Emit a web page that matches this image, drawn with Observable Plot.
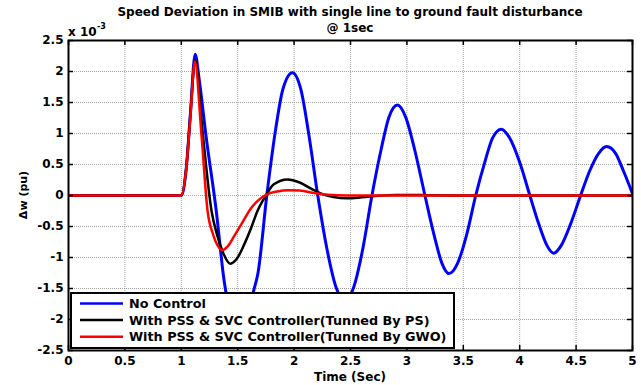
<!DOCTYPE html>
<html><head><meta charset="utf-8">
<script src="https://cdn.jsdelivr.net/npm/d3@7"></script>
<script src="https://cdn.jsdelivr.net/npm/@observablehq/plot@0.6"></script>
<style>body{margin:0;background:#fff} #chart{width:641px;height:385px}</style>
</head><body><div id="chart"></div>
<script>
const title1 = "Speed Deviation in SMIB with single line to ground fault disturbance";
const title2 = "@ 1sec";
const xLabel = "Time (Sec)";
const yLabel = "Δw (pu)";
const yExpBase = "x 10";
const yExpPow = "-3";
const seriesNames = ["No Control", "With PSS & SVC Controller(Tunned By PS)", "With PSS & SVC Controller(Tunned By GWO)"];
const seriesColors = ["#0000ff", "#000000", "#ff0000"];
const xTicks = [0, 0.5, 1, 1.5, 2, 2.5, 3, 3.5, 4, 4.5, 5];
const xTickLabels = ["0", "0.5", "1", "1.5", "2", "2.5", "3", "3.5", "4", "4.5", "5"];
const yTicks = [-2.5, -2, -1.5, -1, -0.5, 0, 0.5, 1, 1.5, 2, 2.5];
const yTickLabels = ["-2.5", "-2", "-1.5", "-1", "-0.5", "0", "0.5", "1", "1.5", "2", "2.5"];

// No Control (x 10^-3)
const blueT = [0, 1.0, 1.044, 1.08, 1.123, 1.16, 1.22, 1.31, 1.38, 1.44, 1.52, 1.59, 1.64, 1.68, 1.758, 1.83, 1.90, 1.985, 2.06, 2.13, 2.21, 2.29, 2.37, 2.45, 2.53, 2.61, 2.69, 2.77, 2.84, 2.916, 2.99, 3.07, 3.16, 3.24, 3.31, 3.373, 3.45, 3.53, 3.61, 3.69, 3.76, 3.837, 3.91, 4.00, 4.09, 4.17, 4.24, 4.30, 4.37, 4.45, 4.54, 4.62, 4.70, 4.77, 4.85, 4.92, 5.0];
const blueV = [0, 0, 0.44, 1.3, 2.28, 1.85, 0.95, -0.25, -1.38, -1.95, -2.25, -2.0, -1.55, -1.25, 0, 0.99, 1.71, 1.98, 1.71, 0.99, 0, -0.85, -1.47, -1.70, -1.47, -0.85, 0, 0.73, 1.26, 1.46, 1.26, 0.73, 0, -0.63, -1.09, -1.26, -1.09, -0.63, 0, 0.535, 0.93, 1.07, 0.93, 0.535, 0, -0.465, -0.80, -0.93, -0.80, -0.465, 0, 0.395, 0.68, 0.79, 0.68, 0.395, 0.03];
// PSS & SVC tuned by PS
const blackT = [0, 1.0, 1.044, 1.08, 1.123, 1.19, 1.268, 1.32, 1.37, 1.433, 1.50, 1.56, 1.62, 1.675, 1.75, 1.82, 1.94, 2.05, 2.15, 2.24, 2.35, 2.47, 2.6, 2.75, 2.9, 3.03, 3.2, 3.4, 5.0];
const blackV = [0, 0, 0.44, 1.3, 2.19, 1.0, -0.25, -0.65, -0.92, -1.10, -1.0, -0.78, -0.52, -0.25, 0, 0.18, 0.26, 0.21, 0.11, 0.03, -0.025, -0.045, -0.03, -0.005, 0.008, 0.01, 0.003, 0, 0];
// PSS & SVC tuned by GWO
const redT = [0, 1.0, 1.044, 1.08, 1.12, 1.18, 1.233, 1.28, 1.32, 1.366, 1.42, 1.47, 1.53, 1.62, 1.70, 1.76, 1.85, 1.95, 2.05, 2.18, 2.3, 2.47, 5.0];
const redV = [0, 0, 0.44, 1.25, 2.16, 0.95, -0.25, -0.62, -0.80, -0.88, -0.80, -0.65, -0.47, -0.2, -0.05, 0.02, 0.065, 0.085, 0.08, 0.04, 0.012, 0, 0];

const toRows = (T, V) => T.map((t, i) => ({t, v: V[i]}));
const seriesRows = [toRows(blueT, blueV), toRows(blackT, blackV), toRows(redT, redV)];
const seriesWidths = [3, 2.5, 2.5];

const W = 641, H = 385, mL = 68, mR = 9, mT = 40, mB = 35;
const fw = W - mL - mR, fh = H - mT - mB;
const font = "DejaVu Sans";

const svg = Plot.plot({
  width: W, height: H, marginLeft: mL, marginRight: mR, marginTop: mT, marginBottom: mB,
  style: {fontFamily: font, fontWeight: "bold", fontSize: "12px", background: "white", color: "black", overflow: "visible"},
  x: {domain: [0, 5], label: null},
  y: {domain: [-2.5, 2.5], label: null},
  marks: [
    Plot.gridX(xTicks, {stroke: "#999", strokeOpacity: 0.9, strokeDasharray: "1,1"}),
    Plot.gridY(yTicks, {stroke: "#999", strokeOpacity: 0.9, strokeDasharray: "1,1"}),
    ...seriesRows.map((rows, i) => Plot.line(rows, {x: "t", y: "v", stroke: seriesColors[i], strokeWidth: seriesWidths[i], curve: "monotone-x", clip: true})),
    Plot.tickY(yTicks, {insetRight: fw - 5, stroke: "black", strokeWidth: 1.5}),
    Plot.tickY(yTicks, {insetLeft: fw - 5, stroke: "black", strokeWidth: 1.5}),
    Plot.tickX(xTicks, {insetBottom: fh - 5, stroke: "black", strokeWidth: 1.5}),
    Plot.tickX(xTicks, {insetTop: fh - 5, stroke: "black", strokeWidth: 1.5}),
    Plot.axisX(xTicks, {tickSize: 0, tickPadding: 6, label: null, tickFormat: (d) => xTickLabels[xTicks.indexOf(d)]}),
    Plot.axisY(yTicks, {tickSize: 0, tickPadding: 5, label: null, tickFormat: (d) => yTickLabels[yTicks.indexOf(d)]}),
    Plot.frame({stroke: "black", strokeWidth: 2})
  ]
});

const s = d3.select(svg);
const txt = (x, y, str, size, anchor = "middle") => s.append("text").attr("x", x).attr("y", y)
  .attr("text-anchor", anchor).attr("font-family", font).attr("font-weight", "bold")
  .attr("font-size", size).attr("fill", "black").text(str);

const cx = mL + fw / 2;
txt(cx, 16, title1, 12);
txt(cx, 32, title2, 12);
txt(cx, 381, xLabel, 12);
s.append("text").attr("transform", `translate(27,${mT + fh / 2}) rotate(-90)`)
  .attr("text-anchor", "middle").attr("font-family", font).attr("font-weight", "bold")
  .attr("font-size", 11).text(yLabel);
txt(68, 36, yExpBase, 12, "start");
txt(97, 29, yExpPow, 8, "start");

// legend
const lg = s.append("g").attr("text-anchor", "start");
lg.append("rect").attr("x", 71).attr("y", 293).attr("width", 383).attr("height", 55)
  .attr("fill", "white").attr("stroke", "black").attr("stroke-width", 2);
seriesNames.forEach((name, i) => {
  const y = 303.5 + i * 16.6;
  lg.append("line").attr("x1", 80).attr("x2", 123).attr("y1", y).attr("y2", y)
    .attr("stroke", seriesColors[i]).attr("stroke-width", 2.5);
  lg.append("text").attr("x", 129).attr("y", y + 4.5).attr("text-anchor", "start").attr("font-family", font)
    .attr("font-weight", "bold").attr("font-size", 12.8).text(name);
});

document.getElementById("chart").appendChild(svg);
</script>
</body></html>
